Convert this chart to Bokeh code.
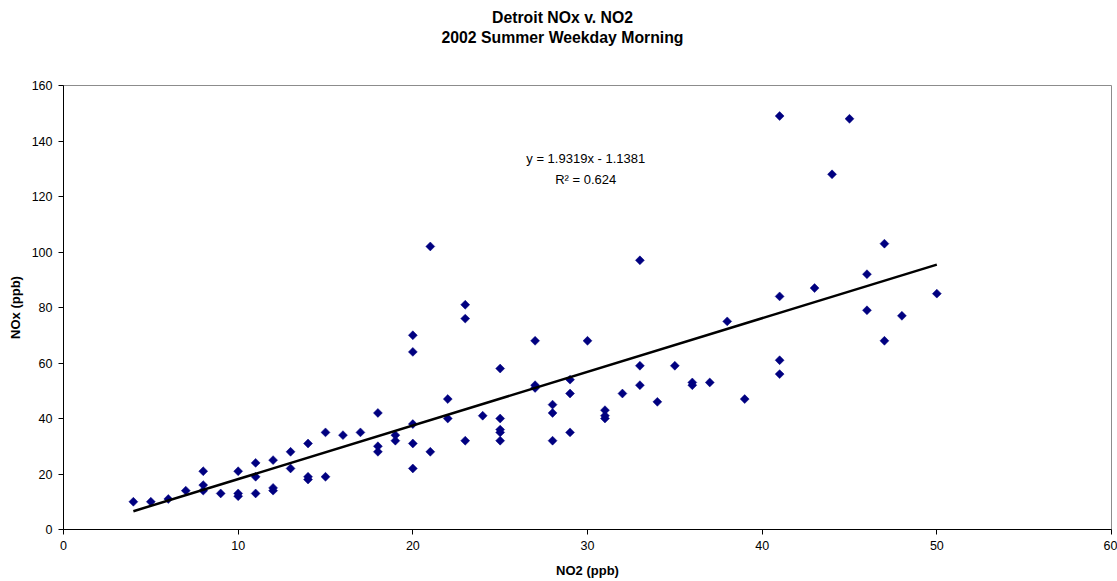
import numpy as np
from bokeh.plotting import figure
from bokeh.models import Range1d, Label, FixedTicker, Title
from bokeh.embed import file_html
from bokeh.resources import INLINE

# ---------------- data ----------------
title_lines = ["Detroit NOx v. NO2", "2002 Summer Weekday Morning"]
x_label = "NO2 (ppb)"
y_label = "NOx (ppb)"
x_ticks = [0, 10, 20, 30, 40, 50, 60]
y_ticks = [0, 20, 40, 60, 80, 100, 120, 140, 160]

no2 = [4, 5, 6, 7,
       8, 8, 8, 9,
       10, 10, 10, 11, 11, 11, 12, 12, 12,
       13, 13, 14, 14, 14, 15, 15, 16, 17,
       18, 18, 18, 19, 19,
       20, 20, 20, 20, 20, 21, 21, 22, 22,
       23, 23, 23, 24, 25, 25, 25, 25, 25,
       27, 27, 27, 28, 28, 28, 29, 29, 29, 30,
       31, 31, 31, 32, 33, 33, 33, 34, 35, 36, 36, 37, 38, 39,
       41, 41, 41, 41, 43, 44, 45, 46, 46, 47, 47, 48, 50]
nox = [10, 10, 11, 14,
       21, 16, 14, 13,
       21, 13, 12, 24, 19, 13, 25, 15, 14,
       28, 22, 31, 19, 18, 35, 19, 34, 35,
       42, 30, 28, 34, 32,
       70, 64, 38, 31, 22, 102, 28, 47, 40,
       81, 76, 32, 41, 58, 40, 36, 35, 32,
       68, 52, 51, 45, 42, 32, 54, 49, 35, 68,
       43, 41, 40, 49, 97, 59, 52, 46, 59, 53, 52, 53, 75, 47,
       149, 84, 61, 56, 87, 128, 148, 92, 79, 103, 68, 77, 85]

slope = 1.9319
intercept = -1.1381
r_squared = 0.624

# ---------------- figure ----------------
FONT = "Liberation Sans"

p = figure(width=1117, height=581, output_backend="svg", toolbar_location=None,
           x_range=Range1d(x_ticks[0], x_ticks[-1]),
           y_range=Range1d(y_ticks[0], y_ticks[-1]),
           min_border_left=63, min_border_right=6,
           min_border_top=85, min_border_bottom=52)

p.title.visible = False
p.background_fill_color = "white"
p.border_fill_color = "white"
p.outline_line_color = "#8c8c8c"
p.outline_line_width = 1
p.xgrid.visible = False
p.ygrid.visible = False

for ax, ticks, lab in ((p.xaxis[0], x_ticks, x_label), (p.yaxis[0], y_ticks, y_label)):
    ax.ticker = FixedTicker(ticks=ticks)
    ax.minor_tick_line_color = None
    ax.major_tick_in = 0
    ax.major_tick_out = 5
    ax.major_tick_line_color = "black"
    ax.axis_line_color = "black"
    ax.axis_line_width = 1
    ax.major_label_text_font = FONT
    ax.major_label_text_font_size = "12.5px"
    ax.major_label_text_color = "black"
    ax.major_label_standoff = 6
    ax.axis_label = lab
    ax.axis_label_text_font = FONT
    ax.axis_label_text_font_size = "13px"
    ax.axis_label_text_font_style = "bold"
    ax.axis_label_text_color = "black"
p.xaxis[0].axis_label_standoff = 10
p.yaxis[0].axis_label_standoff = 6

# scatter points: navy diamonds
p.scatter(no2, nox, marker="square", size=6.3, angle=np.pi / 4,
          fill_color="#000080", line_color="#000080", line_width=0.5)

# linear trendline
x_fit = np.array([min(no2), max(no2)], dtype=float)
y_fit = slope * x_fit + intercept
p.line(x_fit, y_fit, line_color="black", line_width=2.5)

# trendline equation
sign = "-" if intercept < 0 else "+"
eq_text = f"y = {slope}x {sign} {abs(intercept)}"
r2_text = f"R\u00b2 = {r_squared}"
p.add_layout(Label(x=29.9, y=133.6, text=eq_text, text_align="center",
                   text_baseline="middle", text_font=FONT,
                   text_font_size="13px", text_color="black"))
p.add_layout(Label(x=29.9, y=126.1, text=r2_text, text_align="center",
                   text_baseline="middle", text_font=FONT,
                   text_font_size="13px", text_color="black"))

# two-line title: spacer next to the frame, then line 2, then line 1
p.add_layout(Title(text=" ", text_font_size="33px", standoff=0), "above")
p.add_layout(Title(text=title_lines[1], align="left", offset=378,
                   text_font=FONT, text_font_size="15.8px",
                   text_font_style="bold", text_color="black", standoff=1), "above")
p.add_layout(Title(text=title_lines[0], align="left", offset=428.5,
                   text_font=FONT, text_font_size="15.8px",
                   text_font_style="bold", text_color="black", standoff=1), "above")

open("out.html", "w").write(file_html(p, INLINE))
